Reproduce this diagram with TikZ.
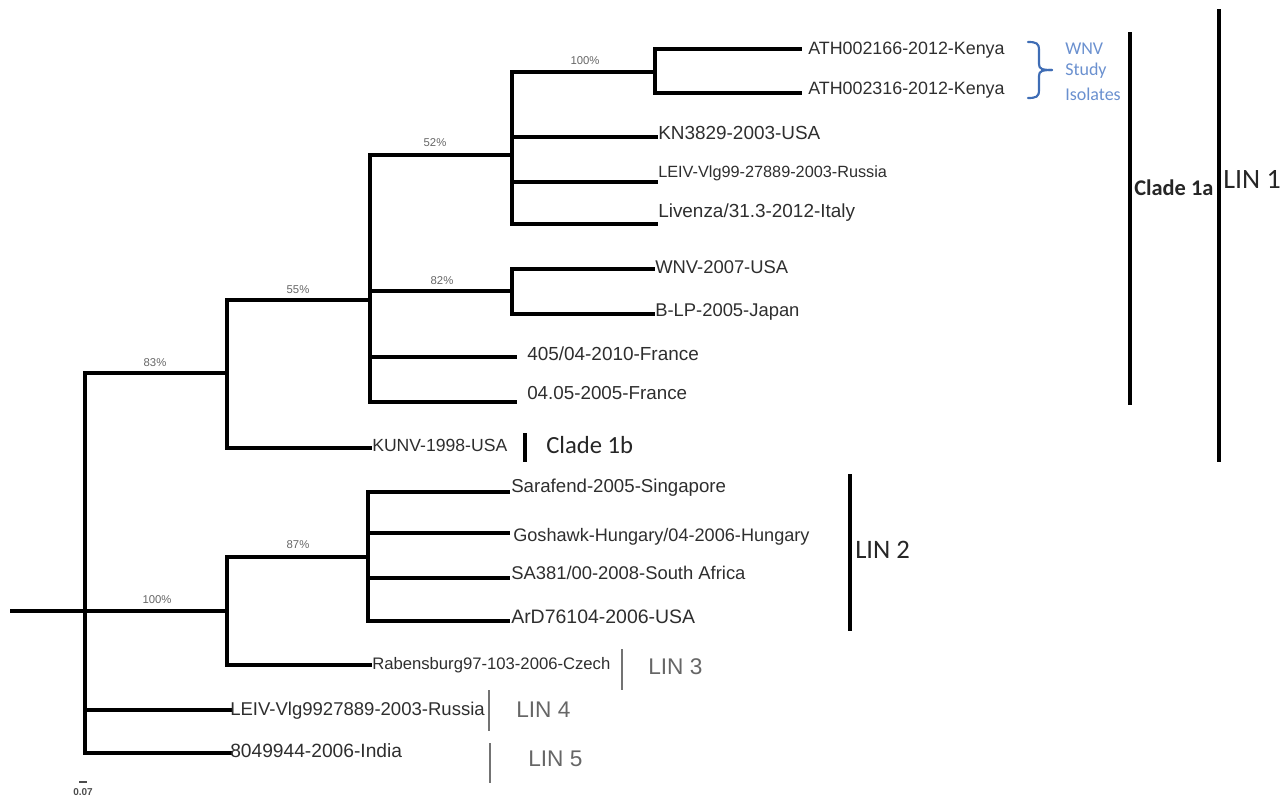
\documentclass[tikz,border=0pt]{standalone}
\usepackage{fontspec}
\setmainfont{Liberation Sans}
\newfontfamily\calfont{Carlito}
\newcommand\fsz[1]{\fontsize{#1}{#1}\selectfont}
\definecolor{bracecol}{HTML}{3F6DB5}
\definecolor{bluetext}{HTML}{6A90CF}
\definecolor{taxcol}{HTML}{2E2E2E}
\begin{document}
\begin{tikzpicture}[x=0.75pt,y=-0.75pt,
  br/.style={line width=2.3pt, line cap=rect, line join=miter},
  tx/.style={anchor=west, inner sep=0pt, text=taxcol},
  sup/.style={inner sep=0pt, text=black!60, font=\fsz{8.5}},
  bar/.style={line width=3pt},
  gbar/.style={line width=1.6pt, draw=black!55},
  clab/.style={anchor=west, inner sep=0pt, text=black!85},
  glab/.style={anchor=west, inner sep=0pt, text=black!60, font=\fsz{17}},
  blab/.style={anchor=west, inner sep=0pt, text=bluetext, font=\calfont\fsz{13.5}}
]
\useasboundingbox (0,0) rectangle (1281,800);

% ---------- tree coordinates ----------
\coordinate (root) at (12,611);
\coordinate (r) at (85,611);
\coordinate (n83) at (227,373);
\coordinate (n100b) at (227,611);
\coordinate (tLEIV4) at (230,710);
\coordinate (tIndia) at (230,753);
\coordinate (n55) at (370,300);
\coordinate (tKUNV) at (370,448);
\coordinate (n52) at (512,155);
\coordinate (n82) at (512,291);
\coordinate (t405) at (515,357);
\coordinate (t0405) at (515,402);
\coordinate (n100a) at (655,72);
\coordinate (tKN) at (656,137);
\coordinate (tLEIV99) at (656,182);
\coordinate (tLiv) at (656,224);
\coordinate (tATH1) at (800,49);
\coordinate (tATH2) at (800,93);
\coordinate (tWNV) at (653,269);
\coordinate (tBLP) at (653,314);
\coordinate (n87) at (368,557);
\coordinate (tRab) at (370,665);
\coordinate (tSar) at (508,492);
\coordinate (tGos) at (508,533);
\coordinate (tSA) at (508,578);
\coordinate (tArD) at (508,621);

% ---------- branches ----------
\draw[br] (root) -- (r);
\draw[br] (r) |- (n83);
\draw[br] (r) |- (n100b);
\draw[br] (r) |- (tLEIV4);
\draw[br] (r) |- (tIndia);
\draw[br] (n83) |- (n55);
\draw[br] (n83) |- (tKUNV);
\draw[br] (n55) |- (n52);
\draw[br] (n55) |- (n82);
\draw[br] (n55) |- (t405);
\draw[br] (n55) |- (t0405);
\draw[br] (n52) |- (n100a);
\draw[br] (n52) |- (tKN);
\draw[br] (n52) |- (tLEIV99);
\draw[br] (n52) |- (tLiv);
\draw[br] (n100a) |- (tATH1);
\draw[br] (n100a) |- (tATH2);
\draw[br] (n82) |- (tWNV);
\draw[br] (n82) |- (tBLP);
\draw[br] (n100b) |- (n87);
\draw[br] (n100b) |- (tRab);
\draw[br] (n87) |- (tSar);
\draw[br] (n87) |- (tGos);
\draw[br] (n87) |- (tSA);
\draw[br] (n87) |- (tArD);

% ---------- support values ----------
\node[sup] (s100a) at (585,61) {100\%};
\node[sup] (s52) at (435,143) {52\%};
\node[sup] (s82) at (442,281) {82\%};
\node[sup] (s55) at (298,290) {55\%};
\node[sup] (s83) at (155,363) {83\%};
\node[sup] (s87) at (298,545) {87\%};
\node[sup] (s100b) at (157,600) {100\%};

% ---------- taxa ----------
\node[tx, font=\fsz{13.4}] (lATH1) at (808,50) {ATH002166-2012-Kenya};
\node[tx, font=\fsz{13.4}] (lATH2) at (808,90) {ATH002316-2012-Kenya};
\node[tx, font=\fsz{14.2}] (lKN) at (658,133) {KN3829-2003-USA};
\node[tx, font=\fsz{12.2}] (lLEIV99) at (658,173) {LEIV-Vlg99-27889-2003-Russia};
\node[tx, font=\fsz{14.2}] (lLiv) at (658,213) {Livenza/31.3-2012-Italy};
\node[tx, font=\fsz{13.8}] (lWNV) at (655,267) {WNV-2007-USA};
\node[tx, font=\fsz{13.8}] (lBLP) at (655,312) {B-LP-2005-Japan};
\node[tx, font=\fsz{14.2}] (l405) at (527,354) {405/04-2010-France};
\node[tx, font=\fsz{14.1}] (l0405) at (527,393) {04.05-2005-France};
\node[tx, font=\fsz{13.2}] (lKUNV) at (372,445) {KUNV-1998-USA};
\node[tx, font=\fsz{14}] (lSar) at (511,488) {Sarafend-2005-Singapore};
\node[tx, font=\fsz{13.6}] (lGos) at (513,537) {Goshawk-Hungary/04-2006-Hungary};
\node[tx, font=\fsz{13.8}] (lSA) at (511,573) {SA381/00-2008-South Africa};
\node[tx, font=\fsz{14.6}] (lArD) at (511,617) {ArD76104-2006-USA};
\node[tx, font=\fsz{12.5}] (lRab) at (372,665) {Rabensburg97-103-2006-Czech};
\node[tx, font=\fsz{13.9}] (lLEIV4) at (230,711) {LEIV-Vlg9927889-2003-Russia};
\node[tx, font=\fsz{14.4}] (lIndia) at (230,751) {8049944-2006-India};

% ---------- WNV study isolates brace ----------
\coordinate (brT) at (1028,42);
\coordinate (brM) at (1052,70);
\coordinate (brB) at (1028,98);
\draw[bracecol, line width=1.6pt, line cap=round]
  (brT) .. controls (1036,42) and (1039,43) .. (1039,50) -- (1039,64)
  .. controls (1039,69) and (1042,70) .. (brM);
\draw[bracecol, line width=1.6pt, line cap=round]
  (brB) .. controls (1036,98) and (1039,97) .. (1039,90) -- (1039,76)
  .. controls (1039,71) and (1042,70) .. (brM);
\node[blab] (wnv1) at (1065,49) {WNV};
\node[blab] (wnv2) at (1065,71) {Study};
\node[blab] (wnv3) at (1065,94) {Isolates};

% ---------- clade bars ----------
\coordinate (c1aT) at (1130,32);
\coordinate (c1aB) at (1130,405);
\draw[bar] (c1aT) -- (c1aB);
\node[clab, font=\calfont\bfseries\fsz{16.8}] (lc1a) at (1134,188) {Clade 1a};

\coordinate (lin1T) at (1219,9);
\coordinate (lin1B) at (1219,462);
\draw[bar] (lin1T) -- (lin1B);
\node[clab, font=\calfont\fsz{21}] (llin1) at (1223,179) {LIN 1};

\coordinate (c1bT) at (525,433);
\coordinate (c1bB) at (525,462);
\draw[line width=2.4pt] (c1bT) -- (c1bB);
\node[clab, font=\calfont\fsz{18.5}] (lc1b) at (546,445) {Clade 1b};

\coordinate (lin2T) at (850,474);
\coordinate (lin2B) at (850,631);
\draw[line width=2.4pt] (lin2T) -- (lin2B);
\node[clab, font=\calfont\fsz{20}] (llin2) at (855,550) {LIN 2};

\coordinate (lin3T) at (622,649);
\coordinate (lin3B) at (622,690);
\draw[gbar] (lin3T) -- (lin3B);
\node[glab] (llin3) at (648,667) {LIN 3};

\coordinate (lin4T) at (489,690);
\coordinate (lin4B) at (489,731);
\draw[gbar] (lin4T) -- (lin4B);
\node[glab] (llin4) at (516,710) {LIN 4};

\coordinate (lin5T) at (490,743);
\coordinate (lin5B) at (490,783);
\draw[gbar] (lin5T) -- (lin5B);
\node[glab] (llin5) at (528,759) {LIN 5};

% ---------- scale bar ----------
\coordinate (scL) at (79,782);
\coordinate (scR) at (87,782);
\draw[line width=0.9pt, black!70] (scL) -- (scR);
\node[inner sep=0pt, text=black!70, font=\bfseries\fsz{7.5}] (scl) at (83,792) {0.07};
\end{tikzpicture}
\end{document}
